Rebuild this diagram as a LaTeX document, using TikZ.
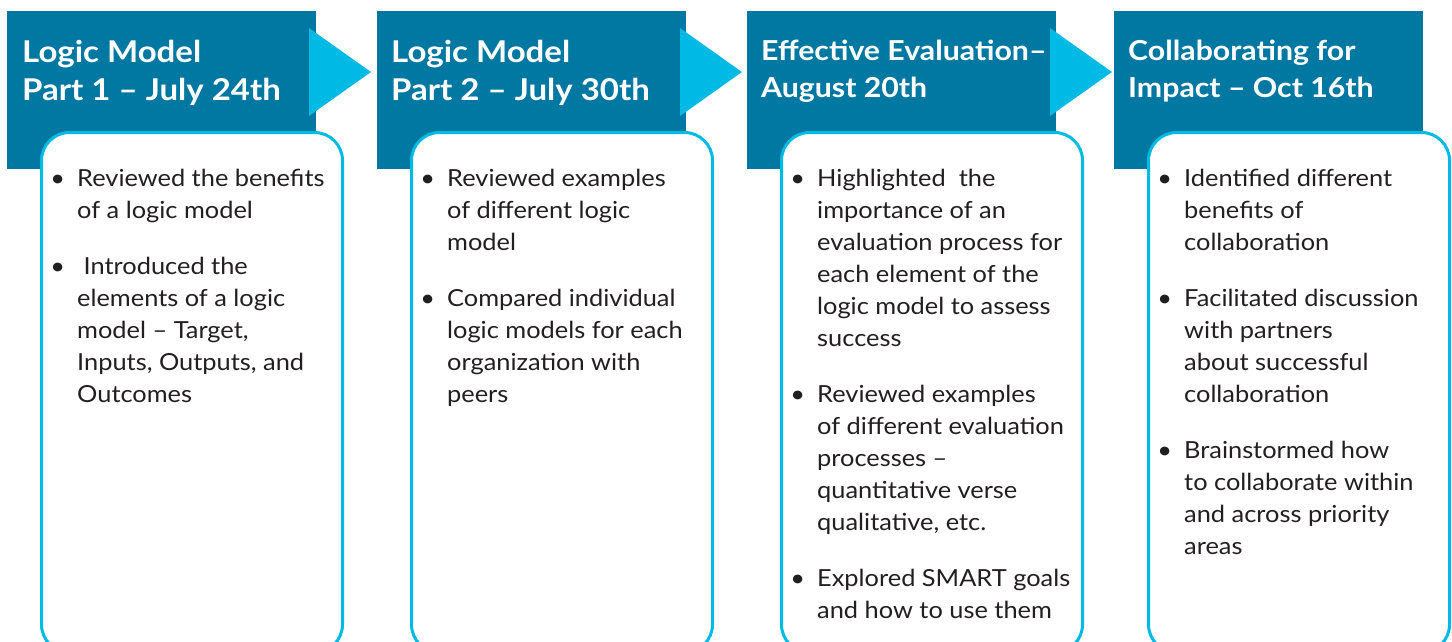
\documentclass[tikz,border=0pt]{standalone}
\usepackage{fontspec}
\setmainfont{Lato}
\newfontfamily\bodyfont[FakeStretch=1.08,Ligatures=TeX]{Lato}
\newfontfamily\headfont[FakeStretch=1.10,Ligatures=TeX]{Lato}
\definecolor{hdr}{RGB}{0,120,161}
\definecolor{cyn}{RGB}{0,186,230}
\definecolor{txt}{RGB}{35,31,32}
\tikzset{
 hdrbox/.style={fill=hdr, draw=none, anchor=north west, inner sep=0pt, minimum width=309pt, minimum height=158pt},
 tri/.style={fill=cyn, draw=none},
 bodybox/.style={draw=cyn, line width=3pt, fill=white, rounded corners=28pt, anchor=north west, inner sep=0pt, minimum width=301pt, minimum height=520pt},
 hdrtext/.style={text=white, font=\headfont\bfseries\fontsize{30}{38}\selectfont, align=left, anchor=north west, inner sep=0pt},
 hdrtextb/.style={text=white, font=\headfont\bfseries\fontsize{27.5}{37}\selectfont, align=left, anchor=north west, inner sep=0pt},
 bodytext/.style={text=txt, font=\bodyfont\fontsize{23.5}{32}\selectfont, align=left, anchor=north west, inner sep=0pt},
}
\newcommand{\bul}{\llap{\textbullet\hspace{12pt}}}
\newcommand{\fs}{\rule{0pt}{22pt}}
\newcommand{\hs}{\rule{0pt}{26pt}}
\begin{document}
\begin{tikzpicture}[x=1pt,y=-1pt]
\useasboundingbox (0,0) rectangle (1452,641);
\clip (0,0) rectangle (1452,641);
% header boxes
\node[hdrbox] (h1) at (7,11) {};
\node[hdrbox] (h2) at (377,11) {};
\node[hdrbox] (h3) at (747,11) {};
\node[hdrbox] (h4) at (1114,11) {};
% arrows
\fill[tri] (309,28) -- (371,72) -- (309,116) -- cycle;
\fill[tri] (680,28) -- (742,72) -- (680,116) -- cycle;
\fill[tri] (1050,28) -- (1112,72) -- (1050,116) -- cycle;
% body boxes
\node[bodybox] (b1) at (40,131) {};
\node[bodybox] (b2) at (410,131) {};
\node[bodybox] (b3) at (780,131) {};
\node[bodybox] (b4) at (1147,131) {};
% header texts
\node[hdrtext] (t1) at (22,36) {\hs Logic Model\\Part 1 – July 24th};
\node[hdrtext] (t2) at (391,36) {\hs Logic Model\\Part 2 – July 30th};
\node[hdrtextb] (t3) at (761,34) {\hs Effective Evaluation–\\August 20th};
\node[hdrtextb] (t4) at (1128,34) {\hs Collaborating for\\Impact – Oct 16th};
% body texts
\node[bodytext] (c1) at (77,164) {\fs\bul Reviewed the benefits\\of a logic model\\[24pt]
\bul\ Introduced the\\elements of a logic\\model – Target,\\Inputs, Outputs, and\\Outcomes};
\node[bodytext] (c2) at (447,164) {\fs\bul Reviewed examples\\of different logic\\model\\[24pt]
\bul Compared individual\\logic models for each\\organization with\\peers};
\node[bodytext] (c3) at (817,164) {\fs\bul Highlighted\ \ the\\importance of an\\evaluation process for\\each element of the\\logic model to assess\\success\\[24pt]
\bul Reviewed examples\\of different evaluation\\processes –\\quantitative verse\\qualitative, etc.\\[24pt]
\bul Explored SMART goals\\and how to use them};
\node[bodytext] (c4) at (1184,164) {\fs\bul Identified different\\benefits of\\collaboration\\[24pt]
\bul Facilitated discussion\\with partners\\about successful\\collaboration\\[24pt]
\bul Brainstormed how\\to collaborate within\\and across priority\\areas};
\end{tikzpicture}
\end{document}
